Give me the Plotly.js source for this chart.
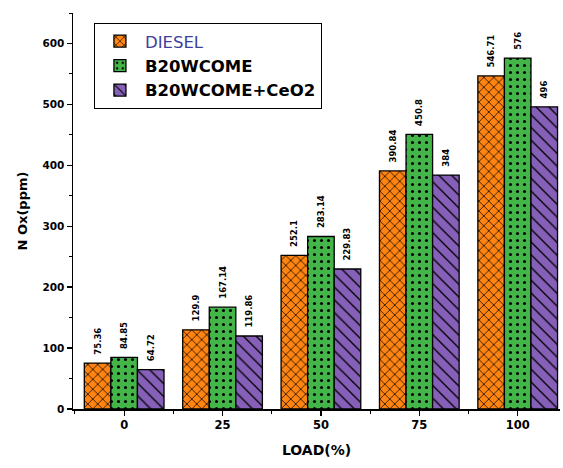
<!DOCTYPE html>
<html>
<head>
<meta charset="utf-8">
<script src="https://cdn.plot.ly/plotly-3.0.1.min.js"></script>
<style>
  html, body { margin: 0; padding: 0; background: #fff; }
  #chart { width: 563px; height: 468px; }
</style>
</head>
<body>
<div id="chart"></div>
<script>
// Engine load steps and NOx emissions (ppm) for each fuel blend
const loads = ['0', '25', '50', '75', '100'];
const diesel = [75.36, 129.9, 252.1, 390.84, 546.71];
const b20wcome = [84.85, 167.14, 283.14, 450.8, 576];
const b20wcomeCeo2 = [64.72, 119.86, 229.83, 384, 496];

const positions = loads.map((_, i) => i);

function barTrace(name, values, color, shape, size, solidity) {
  return {
    type: 'bar',
    name: name,
    x: positions,
    y: values,
    // leading no-break spaces lift the rotated value label off the bar top
    text: values.map(v => '\u00a0\u00a0<b>' + v + '</b>'),
    textposition: 'outside',
    textangle: -90,
    constraintext: 'none',
    textfont: { family: 'DejaVu Sans, sans-serif', size: 8.5, color: '#000' },
    cliponaxis: false,
    marker: {
      color: color,
      line: { color: '#000', width: 1.3 },
      pattern: { shape: shape, fgcolor: '#000', bgcolor: color, size: size, solidity: solidity, fillmode: 'replace' }
    },
    hoverinfo: 'x+y'
  };
}

const traces = [
  barTrace('<span style="color:#3d3f9c">DIESEL</span>', diesel, '#ff8412', 'x', 7, 0.2),
  barTrace('<b>B20WCOME</b>', b20wcome, '#44b549', '.', 7, 0.15),
  barTrace('<b>B20WCOME+CeO2</b>', b20wcomeCeo2, '#8660b8', '\\', 9, 0.15)
];

const wide = 'DejaVu Sans, sans-serif';

const layout = {
  width: 563,
  height: 468,
  margin: { l: 73, r: 3, t: 13, b: 59 },
  paper_bgcolor: '#fff',
  plot_bgcolor: '#fff',
  barmode: 'group',
  bargap: 0.19,
  bargroupgap: 0,
  uniformtext: { minsize: 8.5, mode: 'show' },
  showlegend: true,
  legend: {
    x: 0.043, y: 0.975, xanchor: 'left', yanchor: 'top',
    bgcolor: '#fff', bordercolor: '#000', borderwidth: 1,
    font: { family: wide, size: 16.5, color: '#000' },
    itemwidth: 40,
    traceorder: 'normal'
  },
  xaxis: {
    type: 'linear',
    range: [-0.52, 4.43],
    tickmode: 'array',
    tickvals: positions,
    ticktext: loads.map(l => '<b>' + l + '</b>'),
    ticks: 'outside', ticklen: 5, tickwidth: 1.3, tickcolor: '#000',
    minor: { dtick: 0.5, tick0: 0.5, ticks: 'outside', ticklen: 3, tickwidth: 1, tickcolor: '#000' },
    showline: true, linecolor: '#000', linewidth: 1.5,
    showgrid: false, zeroline: false,
    tickfont: { family: wide, size: 11.5, color: '#000' },
    title: { text: '<b>LOAD(%)</b>', font: { family: wide, size: 14, color: '#000' }, standoff: 14 }
  },
  yaxis: {
    range: [0, 650],
    tickmode: 'linear', tick0: 0, dtick: 100,
    ticks: 'outside', ticklen: 5, tickwidth: 1.3, tickcolor: '#000',
    minor: { dtick: 50, ticks: 'outside', ticklen: 3, tickwidth: 1, tickcolor: '#000' },
    showline: true, linecolor: '#000', linewidth: 1.5,
    showgrid: false, zeroline: false,
    tickfont: { family: wide, size: 10.5, color: '#000' },
    tickprefix: '<b>', ticksuffix: '</b>',
    title: { text: '<b>N Ox(ppm)</b>', font: { family: wide, size: 13, color: '#000' }, standoff: 12 }
  }
};

Plotly.newPlot('chart', traces, layout, { displayModeBar: false, staticPlot: true });
</script>
</body>
</html>
